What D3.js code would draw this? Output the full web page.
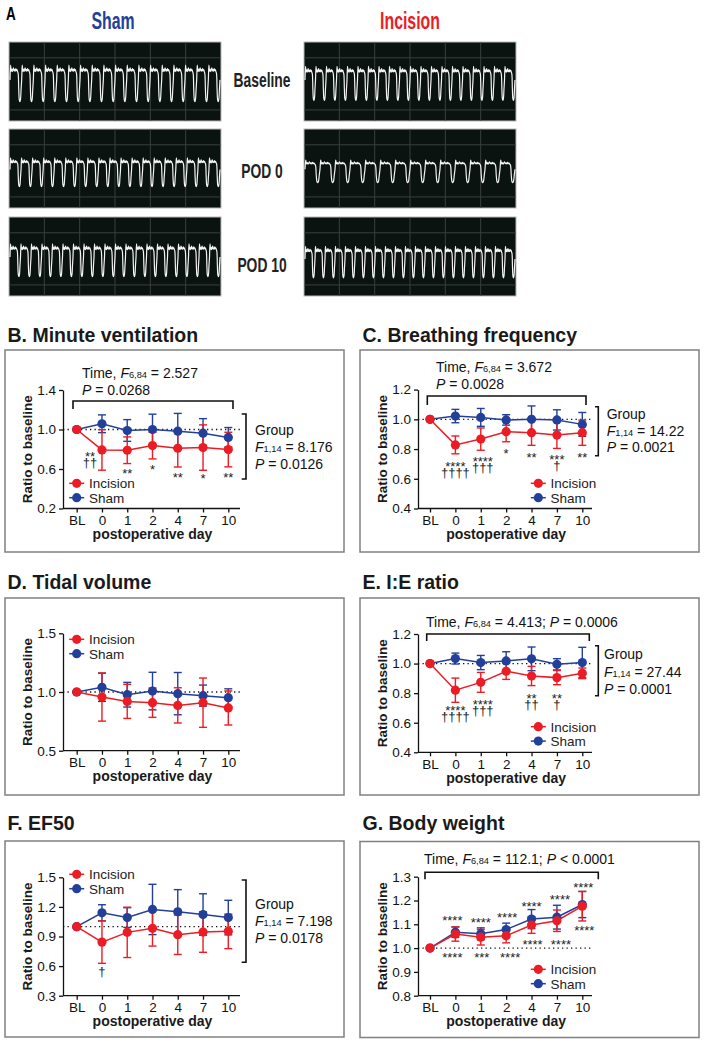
<!DOCTYPE html>
<html><head><meta charset="utf-8">
<script src="https://cdn.jsdelivr.net/npm/d3@7"></script>
<style>
body{margin:0;background:#fff}
svg{display:block}
text{font-family:"Liberation Sans",Arial,Helvetica,sans-serif;white-space:pre}
</style>
</head><body>
<svg id="c" width="705" height="1044"></svg>
<script>
const RED = "#ec1c24", BLUE = "#22409a";
const days = ["BL", "0", "1", "2", "4", "7", "10"];

// B. Minute ventilation
const mvIncision = [1.0, 0.793, 0.79, 0.837, 0.81, 0.817, 0.797];
const mvIncisionErr = [0, 0.205, 0.135, 0.135, 0.19, 0.23, 0.175];
const mvSham = [1.0, 1.058, 0.99, 1.0, 0.983, 0.963, 0.92];
const mvShamErr = [0, 0.09, 0.11, 0.155, 0.18, 0.147, 0.10];
// C. Breathing frequency
const bfIncision = [1.0, 0.828, 0.867, 0.917, 0.91, 0.894, 0.91];
const bfIncisionErr = [0, 0.06, 0.075, 0.068, 0.085, 0.09, 0.085];
const bfSham = [1.0, 1.022, 1.013, 0.996, 1.0, 0.996, 0.966];
const bfShamErr = [0, 0.045, 0.06, 0.035, 0.09, 0.068, 0.08];
// D. Tidal volume
const tvIncision = [1.0, 0.957, 0.92, 0.909, 0.886, 0.909, 0.864];
const tvIncisionErr = [0, 0.205, 0.145, 0.125, 0.15, 0.21, 0.145];
const tvSham = [1.0, 1.04, 0.977, 1.008, 0.986, 0.969, 0.952];
const tvShamErr = [0, 0.12, 0.105, 0.16, 0.18, 0.09, 0.075];
// E. I:E ratio
const ieIncision = [1.0, 0.82, 0.873, 0.948, 0.916, 0.905, 0.934];
const ieIncisionErr = [0, 0.082, 0.067, 0.055, 0.065, 0.048, 0.036];
const ieSham = [1.0, 1.034, 1.007, 1.018, 1.032, 0.995, 1.007];
const ieShamErr = [0, 0.037, 0.048, 0.062, 0.08, 0.038, 0.103];
// F. EF50
const efIncision = [1.0, 0.843, 0.942, 0.983, 0.918, 0.945, 0.952];
const efIncisionErr = [0, 0.215, 0.255, 0.18, 0.2, 0.205, 0.175];
const efSham = [1.0, 1.14, 1.092, 1.174, 1.15, 1.123, 1.092];
const efShamErr = [0, 0.082, 0.1, 0.255, 0.225, 0.21, 0.175];
// G. Body weight
const bwIncision = [1.0, 1.059, 1.046, 1.052, 1.097, 1.115, 1.176];
const bwIncisionErr = [0, 0.03, 0.033, 0.03, 0.035, 0.045, 0.062];
const bwSham = [1.0, 1.067, 1.06, 1.078, 1.122, 1.13, 1.183];
const bwShamErr = [0, 0.022, 0.025, 0.027, 0.04, 0.05, 0.055];

// tick labels
const ticksB = [0.2, 0.6, 1.0, 1.4];
const ticksC = [0.4, 0.6, 0.8, 1.0, 1.2];
const ticksD = [0.5, 1.0, 1.5];
const ticksE = [0.4, 0.6, 0.8, 1.0, 1.2];
const ticksF = [0.3, 0.6, 0.9, 1.2, 1.5];
const ticksG = [0.8, 0.9, 1.0, 1.1, 1.2, 1.3];

// significance marks: [day, lines (top to bottom), level of first line, shift]
const marksB = [["0",["**","††"],0.76,-12],["1",["**"],0.583,0],["2",["*"],0.623,0],["4",["**"],0.542,0],["7",["*"],0.532,0],["10",["**"],0.542,0]];
const marksC = [["0",["****","††††"],0.704,0],["1",["****","†††"],0.735,2],["2",["*"],0.787,0],["4",["**"],0.76,0],["7",["***","†"],0.746,0],["10",["**"],0.766,0]];
const marksE = [["0",["****","††††"],0.70,0],["1",["****","†††"],0.745,2],["4",["**","††"],0.786,0],["7",["**","†"],0.786,0]];
const marksF = [["0",["†"],0.535,0]];
const marksG = [["0",["****"],1.127,-3],["1",["****"],1.118,0],["2",["****"],1.139,1],["4",["****"],1.188,0],["7",["****"],1.218,3],["10",["****"],1.265,1],
                ["0",["****"],0.971,-3],["1",["***"],0.971,1],["2",["****"],0.971,4],["4",["****"],1.029,1],["7",["****"],1.029,4],["10",["****"],1.085,2]];

// Panel A traces
const breathShape = [0.32,-0.14,0.05,-0.02,0.06,0.0,-0.06,0.04,0.0,0.05,-0.03,0.03,0.0,0.06,0.12,0.62,0.95,1.0,0.93,0.62];
const traceGroups = ["Sham", "Incision"];
const traceRows = ["Baseline", "POD 0", "POD 10"];
const traceCycles = [[18, 19, 20], [20, 14, 21]];
const tracePlateau = [[0.35, 0.41, 0.39], [0.36, 0.43, 0.42]];
const traceTrough = [[0.755, 0.73, 0.755], [0.74, 0.68, 0.77]];

const svg = d3.select("#c");

// ---------- Panel A ----------
const aCols = [{x: 9, cx: 113, color: BLUE}, {x: 304, cx: 410, color: RED}];
const aRowsTop = [42, 129, 217], aRowLabelY = [87.3, 178.3, 271.7];
const boxW = 212, boxH = 79;
svg.append("text").attr("transform","translate(6,20) scale(0.75,1)").attr("font-size",18).attr("font-weight","bold").text("A");
traceGroups.forEach((gname, gi) => {
  svg.append("text").attr("transform",`translate(${aCols[gi].cx},29.3) scale(0.69,1)`)
    .attr("text-anchor","middle").attr("font-size",23).attr("font-weight","bold").attr("fill",aCols[gi].color).text(gname);
  traceRows.forEach((rname, ri) => {
    const bx = aCols[gi].x, by = aRowsTop[ri];
    const g = svg.append("g");
    g.append("rect").attr("x",bx).attr("y",by).attr("width",boxW).attr("height",boxH).attr("fill","#0b1310").attr("stroke","#b8b8b8").attr("stroke-width",1);
    d3.range(1,6).forEach(k => g.append("line").attr("x1",bx+k*boxW/6).attr("x2",bx+k*boxW/6).attr("y1",by+0.5).attr("y2",by+boxH-0.5).attr("stroke","#3a3f3c").attr("stroke-width",1));
    [0.2, 0.86].forEach(f => g.append("line").attr("x1",bx+0.5).attr("x2",bx+boxW-0.5).attr("y1",by+f*boxH).attr("y2",by+f*boxH).attr("stroke","#3a3f3c").attr("stroke-width",1));
    const n = traceCycles[gi][ri], Ln = breathShape.length;
    const pts = d3.range(n*Ln+1).map(k => [k/Ln, breathShape[k % Ln]]);
    const xs = d3.scaleLinear().domain([0, n]).range([bx+1, bx+boxW-1]);
    const ys = d3.scaleLinear().domain([0,1]).range([by+tracePlateau[gi][ri]*boxH, by+traceTrough[gi][ri]*boxH]);
    g.append("path").attr("d", d3.line().x(d=>xs(d[0])).y(d=>ys(d[1])).curve(d3.curveCatmullRom)(pts))
      .attr("fill","none").attr("stroke","#f4f4f4").attr("stroke-width",1.2);
  });
});
traceRows.forEach((r, ri) => {
  svg.append("text").attr("transform",`translate(262,${aRowLabelY[ri]}) scale(0.71,1)`).attr("text-anchor","middle")
    .attr("font-size",19.5).attr("font-weight","bold").attr("fill","#222").text(r);
});

// ---------- helpers ----------
function rich(g, x, y, parts, fs) {
  const t = g.append("text").attr("x",x).attr("y",y).attr("font-size",fs).attr("fill","#111");
  parts.forEach(([s, st]) => {
    const ts = t.append("tspan").text(s);
    if (st === "i") ts.attr("font-style","italic");
    if (st === "s") ts.attr("font-size", fs*0.66);
  });
}

const L = {ax: 63, xr: [76.7, 228.3], axEnd: 240, boxX: 5};
const R = {ax: 418, xr: [430, 582.3], axEnd: 592, boxX: 360};

const panels = [
  {side: L, boxY: 350, boxH: 202, title: "B. Minute ventilation", titleY: 341.5, dom: [0.2, 1.4], yr: [508.5, 390], ticks: ticksB,
   inc: mvIncision, incE: mvIncisionErr, sham: mvSham, shamE: mvShamErr, marks: marksB, legend: [76.7, 483.3],
   time: {x: 82, ys: [377.7, 395], lines: [[["Time, ",""],["F","i"],["6,84","s"],[" = 2.527",""]], [["P","i"],[" = 0.0268",""]]], by: 401, x0: 73, x1: 233, bt: 409},
   group: {bx: 246, y0: 414, y1: 479, tx: 241.7, x: 255, ys: [435, 451.7, 469], F: " = 8.176", P: " = 0.0126"}},
  {side: R, boxY: 350, boxH: 202, title: "C. Breathing frequency", titleY: 341.7, dom: [0.4, 1.2], yr: [508.5, 389.6], ticks: ticksC,
   inc: bfIncision, incE: bfIncisionErr, sham: bfSham, shamE: bfShamErr, marks: marksC, legend: [538.3, 483.3],
   time: {x: 436, ys: [372, 389], lines: [[["Time, ",""],["F","i"],["6,84","s"],[" = 3.672",""]], [["P","i"],[" = 0.0028",""]]], by: 396, x0: 427.3, x1: 586, bt: 405},
   group: {bx: 598.3, y0: 406.7, y1: 455.7, tx: 595, x: 606.7, ys: [419, 435.7, 452.3], F: " = 14.22", P: " = 0.0021"}},
  {side: L, boxY: 598, boxH: 197, title: "D. Tidal volume", titleY: 589, dom: [0.5, 1.5], yr: [750.7, 633.3], ticks: ticksD,
   inc: tvIncision, incE: tvIncisionErr, sham: tvSham, shamE: tvShamErr, marks: [], legend: [76.7, 639.3]},
  {side: R, boxY: 598, boxH: 197, title: "E. I:E ratio", titleY: 588.5, dom: [0.4, 1.2], yr: [752.3, 634], ticks: ticksE,
   inc: ieIncision, incE: ieIncisionErr, sham: ieSham, shamE: ieShamErr, marks: marksE, legend: [538.3, 726.7],
   time: {x: 426, ys: [626.7], lines: [[["Time, ",""],["F","i"],["6,84","s"],[" = 4.413; ",""],["P","i"],[" = 0.0006",""]]], by: 634, x0: 426.7, x1: 589.3, bt: 641},
   group: {bx: 598.3, y0: 645.7, y1: 695.7, tx: 595, x: 604, ys: [659.3, 677.3, 694], F: " = 27.44", P: " = 0.0001"}},
  {side: L, boxY: 841, boxH: 196, title: "F. EF50", titleY: 830, dom: [0.3, 1.5], yr: [995.7, 877.3], ticks: ticksF,
   inc: efIncision, incE: efIncisionErr, sham: efSham, shamE: efShamErr, marks: marksF, legend: [76.7, 874.3],
   group: {bx: 246, y0: 880, y1: 962.3, tx: 241.7, x: 255, ys: [909, 925.7, 942.7], F: " = 7.198", P: " = 0.0178"}},
  {side: R, boxY: 841.5, boxH: 196, title: "G. Body weight", titleY: 830, dom: [0.8, 1.3], yr: [995.7, 876.7], ticks: ticksG,
   inc: bwIncision, incE: bwIncisionErr, sham: bwSham, shamE: bwShamErr, marks: marksG, legend: [538.3, 969.3],
   time: {x: 424, ys: [864], lines: [[["Time, ",""],["F","i"],["6,84","s"],[" = 112.1; ",""],["P","i"],[" < 0.0001",""]]], by: 872.3, x0: 425, x1: 598.3, bt: 879.3}}
];

panels.forEach(p => {
  const s = p.side;
  const g = svg.append("g");
  g.append("rect").attr("x", s.boxX).attr("y", p.boxY).attr("width", 339).attr("height", p.boxH)
    .attr("fill","none").attr("stroke","#808080").attr("stroke-width",1.5);
  g.append("text").attr("x", s.boxX + 2.5).attr("y", p.titleY).attr("font-size", 19.5).attr("font-weight","bold").attr("fill","#1a1a1a").text(p.title);

  const x = d3.scalePoint().domain(days).range(s.xr);
  const y = d3.scaleLinear().domain(p.dom).range(p.yr);
  const y0 = p.yr[0];

  g.append("line").attr("x1", s.ax).attr("x2", s.axEnd).attr("y1", y(1)).attr("y2", y(1))
    .attr("stroke","#111").attr("stroke-width",1.3).attr("stroke-dasharray","1.3 3.2");

  const ya = g.append("g").attr("transform", `translate(${s.ax},0)`)
    .call(d3.axisLeft(y).tickValues(p.ticks).tickFormat(d3.format(".1f")).tickSize(4).tickSizeOuter(0).tickPadding(3));
  ya.selectAll("text").attr("font-size", 13.5).attr("font-family", null).attr("fill","#111");
  ya.selectAll("line,path").attr("stroke","#111").attr("stroke-width",1.3);
  const xa = g.append("g").attr("transform", `translate(0,${y0})`)
    .call(d3.axisBottom(x).tickSize(4).tickSizeOuter(0).tickPadding(3));
  xa.select(".domain").remove();
  xa.append("line").attr("x1", s.ax).attr("x2", s.axEnd).attr("y1", 0).attr("y2", 0).attr("stroke","#111").attr("stroke-width",1.3);
  xa.selectAll("text").attr("font-size", 13.5).attr("font-family", null).attr("fill","#111");
  xa.selectAll(".tick line").attr("stroke","#111").attr("stroke-width",1.3);

  g.append("text").attr("x", (s.xr[0] + s.xr[1]) / 2).attr("y", y0 + 30.5).attr("text-anchor","middle")
    .attr("font-size",14).attr("font-weight","bold").attr("fill","#1a1a1a").text("postoperative day");
  const ym = (p.yr[0] + p.yr[1]) / 2;
  g.append("text").attr("transform", `translate(${s.ax - 31.5},${ym}) rotate(-90)`).attr("text-anchor","middle")
    .attr("font-size",13.5).attr("font-weight","bold").attr("fill","#1a1a1a").text("Ratio to baseline");

  const series = [{v: p.sham, e: p.shamE, c: BLUE}, {v: p.inc, e: p.incE, c: RED}];
  series.forEach(sr => {
    sr.v.forEach((v, i) => {
      if (!sr.e[i]) return;
      const xc = x(days[i]);
      g.append("line").attr("x1", xc).attr("x2", xc).attr("y1", y(v - sr.e[i])).attr("y2", y(v + sr.e[i])).attr("stroke", sr.c).attr("stroke-width",1.4);
      [v - sr.e[i], v + sr.e[i]].forEach(ev => g.append("line").attr("x1", xc - 4).attr("x2", xc + 4).attr("y1", y(ev)).attr("y2", y(ev)).attr("stroke", sr.c).attr("stroke-width",1.4));
    });
  });
  series.forEach(sr => {
    g.append("path").attr("d", d3.line().x((d, i) => x(days[i])).y(d => y(d))(sr.v)).attr("fill","none").attr("stroke", sr.c).attr("stroke-width",1.5);
  });
  series.forEach(sr => {
    g.selectAll(null).data(sr.v).join("circle").attr("cx", (d, i) => x(days[i])).attr("cy", d => y(d)).attr("r", 4.6).attr("fill", sr.c);
  });

  // significance marks (one text per day, lines stacked)
  p.marks.forEach(([d, lines, lv, dx]) => {
    const t = g.append("text").attr("text-anchor","middle").attr("font-size", 13).attr("fill","#222");
    let yy = y(lv);
    lines.forEach((ln, k) => {
      const isStar = ln.includes("*");
      t.append("tspan").attr("x", x(d) + dx).attr("y", yy + (isStar ? 7.4 : 3.6)).text(ln);
      yy += (isStar ? 9.7 : 11);
    });
  });

  const [lx, ly] = p.legend;
  [["Incision", RED], ["Sham", BLUE]].forEach(([lab, c], k) => {
    const yy = ly + k * 14.4;
    g.append("line").attr("x1", lx - 7.5).attr("x2", lx + 7.5).attr("y1", yy).attr("y2", yy).attr("stroke", c).attr("stroke-width",1.5);
    g.append("circle").attr("cx", lx).attr("cy", yy).attr("r", 4.6).attr("fill", c);
    g.append("text").attr("x", lx + 12.3).attr("y", yy + 5).attr("font-size", 13.5).attr("fill","#222").text(lab);
  });

  if (p.time) {
    const t = p.time;
    t.lines.forEach((ln, k) => rich(g, t.x, t.ys[k], ln, 14));
    g.append("path").attr("d", `M${t.x0},${t.bt}V${t.by}H${t.x1}V${t.bt}`).attr("fill","none").attr("stroke","#111").attr("stroke-width",1.6);
  }
  if (p.group) {
    const gr = p.group;
    g.append("path").attr("d", `M${gr.tx},${gr.y0}H${gr.bx}V${gr.y1}H${gr.tx}`).attr("fill","none").attr("stroke","#111").attr("stroke-width",1.6);
    rich(g, gr.x, gr.ys[0], [["Group",""]], 14);
    rich(g, gr.x, gr.ys[1], [["F","i"],["1,14","s"],[gr.F,""]], 14);
    rich(g, gr.x, gr.ys[2], [["P","i"],[gr.P,""]], 14);
  }
});
</script>
</body></html>
